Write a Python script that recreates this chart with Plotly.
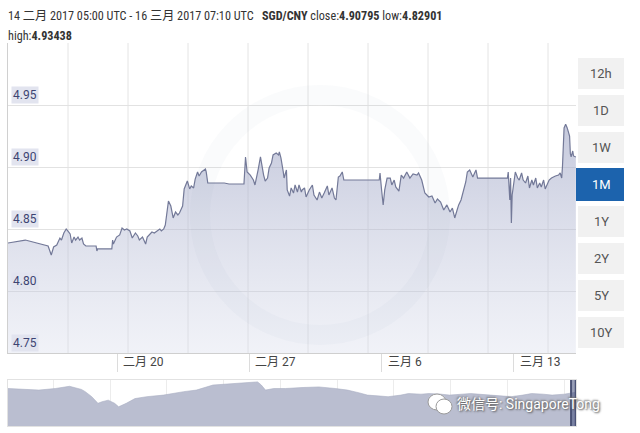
import plotly.graph_objects as go
import pandas as pd

# ---------------- data ----------------
pair = "SGD/CNY"
range_start = "2017-02-14 05:00"
range_end = "2017-03-16 07:10"
close_txt, low_txt, high_txt = "4.90795", "4.82901", "4.93438"

hours_since_start = [
    0, 22, 51, 55, 58, 62, 66, 68, 71, 74, 76, 79, 81, 84, 86, 89, 91, 94, 96, 99,
    112, 113, 114, 132, 133, 134, 138, 142, 145, 148, 151, 155, 158, 162, 165, 167, 171, 175, 177, 180,
    183, 186, 189, 193, 195, 198, 200, 204, 207, 208, 210, 213, 216, 218, 221, 222, 224, 227, 228, 231,
    233, 236, 238, 241, 243, 246, 248, 251, 252, 254, 275, 281, 300, 302, 304, 308, 312, 314, 318, 321,
    325, 327, 330, 332, 335, 337, 341, 344, 345, 347, 350, 351, 354, 355, 358, 360, 363, 365, 368, 370,
    373, 374, 377, 379, 383, 387, 389, 393, 396, 399, 402, 406, 408, 412, 415, 417, 420, 422, 425, 427,
    472, 473, 475, 477, 479, 482, 486, 488, 491, 493, 497, 500, 503, 507, 511, 515, 520, 522, 526, 530,
    535, 539, 543, 546, 550, 554, 558, 562, 565, 568, 571, 573, 576, 579, 582, 584, 587, 591, 595, 597,
    635, 636, 638, 639, 640, 641, 643, 645, 648, 650, 653, 655, 658, 661, 663, 666, 668, 671, 673, 676,
    678, 681, 683, 686, 688, 691, 693, 696, 700, 702, 704, 705, 707, 709, 711, 712, 714, 715, 716, 718,
    719, 722,
]
rate = [
    4.8387, 4.8411, 4.8363, 4.8290, 4.8355, 4.8371, 4.8427, 4.8411, 4.8468, 4.8500, 4.8484, 4.8460, 4.8387, 4.8435, 4.8411, 4.8435, 4.8411, 4.8427, 4.8379, 4.8363,
    4.8363, 4.8323, 4.8339, 4.8339, 4.8411, 4.8379, 4.8435, 4.8452, 4.8508, 4.8492, 4.8500, 4.8484, 4.8427, 4.8468, 4.8444, 4.8411, 4.8435, 4.8379, 4.8435, 4.8452,
    4.8476, 4.8468, 4.8484, 4.8500, 4.8484, 4.8500, 4.8532, 4.8726, 4.8685, 4.8653, 4.8589, 4.8637, 4.8613, 4.8629, 4.8669, 4.8685, 4.8823, 4.8879, 4.8887, 4.8823,
    4.8847, 4.8831, 4.8903, 4.8960, 4.8927, 4.8960, 4.8968, 4.8984, 4.8960, 4.8871, 4.8871, 4.8863, 4.8863, 4.9081, 4.8960, 4.8935, 4.8895, 4.8855, 4.8976, 4.9081,
    4.8935, 4.8887, 4.8911, 4.8992, 4.9032, 4.9097, 4.9113, 4.9097, 4.9121, 4.9073, 4.8960, 4.8911, 4.8976, 4.8815, 4.8766, 4.8831, 4.8790, 4.8855, 4.8798, 4.8855,
    4.8798, 4.8815, 4.8831, 4.8758, 4.8815, 4.8855, 4.8774, 4.8734, 4.8798, 4.8750, 4.8790, 4.8847, 4.8774, 4.8831, 4.8750, 4.8734, 4.8919, 4.8927, 4.8960, 4.8895,
    4.8895, 4.8952, 4.8815, 4.8694, 4.8815, 4.8911, 4.8911, 4.8855, 4.8895, 4.8839, 4.8806, 4.8935, 4.8911, 4.8960, 4.8911, 4.8944, 4.8935, 4.8952, 4.8895, 4.8790,
    4.8758, 4.8766, 4.8710, 4.8742, 4.8718, 4.8653, 4.8694, 4.8637, 4.8669, 4.8589, 4.8653, 4.8694, 4.8734, 4.8815, 4.8879, 4.8960, 4.8976, 4.8919, 4.8976, 4.8911,
    4.8911, 4.8960, 4.8734, 4.8911, 4.8548, 4.8774, 4.8855, 4.8960, 4.8911, 4.8895, 4.8952, 4.8895, 4.8871, 4.8927, 4.8831, 4.8895, 4.8855, 4.8911, 4.8831, 4.8871,
    4.8839, 4.8895, 4.8823, 4.8871, 4.8895, 4.8911, 4.8919, 4.8927, 4.8935, 4.8952, 4.8911, 4.9008, 4.9315, 4.9344, 4.9315, 4.9298, 4.9250, 4.9105, 4.9081, 4.9129,
    4.9089, 4.9080,
]

tick_dates = ["2017-02-20", "2017-02-27", "2017-03-06", "2017-03-13"]
tick_text = ["二月 20", "二月 27", "三月 6", "三月 13"]
y_ticks = [4.75, 4.80, 4.85, 4.90, 4.95]
y_tick_text = ["4.75", "4.80", "4.85", "4.90", "4.95"]

range_buttons = ["12h", "1D", "1W", "1M", "1Y", "2Y", "5Y", "10Y"]
active_button = "1M"

nav_dates = [
    "2007-03-16", "2007-07-01", "2007-10-01", "2008-01-15", "2008-04-15", "2008-07-01", "2008-07-25",
    "2008-09-05", "2008-10-15", "2008-11-10", "2008-12-20", "2009-01-30", "2009-02-25", "2009-04-15",
    "2009-06-10", "2009-08-25", "2009-12-10", "2010-04-20", "2010-07-10", "2010-10-25", "2011-01-10",
    "2011-03-28", "2011-06-15", "2011-08-08", "2011-09-01", "2011-09-28", "2011-11-20", "2012-02-05",
    "2012-05-20", "2012-09-05", "2012-12-20", "2013-03-08", "2013-05-25", "2013-07-15", "2013-10-05",
    "2013-11-25", "2014-02-15", "2014-04-05", "2014-06-25", "2014-08-15", "2014-11-01", "2014-12-25",
    "2015-03-15", "2015-05-10", "2015-09-15", "2016-01-25", "2016-04-10", "2016-06-05", "2016-08-20",
    "2016-10-15", "2017-01-01", "2017-02-10", "2017-03-16",
]
nav_values = [
    5.03, 5.01, 4.98, 5.03, 5.10, 5.00, 4.93,
    4.77, 4.56, 4.61, 4.66, 4.56, 4.45, 4.56,
    4.71, 4.77, 4.82, 4.93, 4.98, 5.14, 5.17,
    5.19, 5.23, 5.24, 5.14, 4.98, 5.03, 5.03,
    5.06, 5.08, 5.03, 4.98, 4.89, 4.82, 4.79,
    4.77, 4.82, 4.87, 4.85, 4.87, 4.85, 4.82,
    4.85, 4.87, 4.82, 4.77, 4.82, 4.87, 4.85,
    4.82, 4.85, 4.87, 4.91,
]

# ---------------- figure ----------------
W, H = 640, 433
ML, MR, MT, MB = 8, 64, 43, 7
PW, PH = W - ML - MR, H - MT - MB


def px(xp):
    return (xp - ML) / PW


def py(yp):
    return (H - MB - yp) / PH


FONT = "Roboto, Noto Sans CJK SC, sans-serif"
HEAD_FONT = "Liberation Sans Narrow, Roboto Condensed, Roboto, Noto Sans CJK SC, sans-serif"

x_main = pd.Timestamp(range_start) + pd.to_timedelta(hours_since_start, unit="h")

fig = go.Figure()

fig.add_trace(go.Scatter(
    x=x_main, y=rate, mode="lines",
    line=dict(color="#737998", width=1.2),
    fill="tozeroy",
    fillgradient=dict(type="vertical",
                      colorscale=[[0, "rgba(214,218,234,0.35)"], [1, "rgba(150,157,192,0.55)"]],
                      start=4.75, stop=4.935),
    xaxis="x", yaxis="y", hoverinfo="skip", showlegend=False,
))

fig.add_trace(go.Scatter(
    x=nav_dates, y=nav_values, mode="lines",
    line=dict(color="#a9aec3", width=0.6),
    fill="tozeroy", fillcolor="#babed0",
    xaxis="x2", yaxis="y2", hoverinfo="skip", showlegend=False,
))

main_dom = [py(353), 1]
nav_dom = [0, py(380)]

fig.update_layout(
    width=W, height=H,
    margin=dict(l=ML, r=MR, t=MT, b=MB),
    paper_bgcolor="white", plot_bgcolor="rgba(0,0,0,0)",
    font=dict(family=FONT, size=12, color="#333"),
    xaxis=dict(domain=[0, 1], anchor="y", type="date",
               range=[range_start, range_end],
               showgrid=False, zeroline=False,
               tickvals=tick_dates, ticks="outside", ticklen=18, tickcolor="#dcdcdc",
               showticklabels=False, showline=True, linecolor="#cfcfcf", linewidth=1),
    yaxis=dict(domain=main_dom, anchor="x", range=[4.75, 5.0],
               tickvals=y_ticks, showticklabels=False, ticks="",
               showgrid=True, gridcolor="#e2e2e2", zeroline=False,
               showline=True, linecolor="#d0d0d0"),
    xaxis2=dict(domain=[0, 1], anchor="y2", type="date",
                range=["2007-03-16", "2017-03-18"],
                showgrid=True, gridcolor="#ececec", dtick="M12",
                showticklabels=False, ticks="", zeroline=False,
                showline=True, linecolor="#e2e2e2", mirror=True),
    yaxis2=dict(domain=nav_dom, anchor="x2", range=[3.84, 5.30],
                showgrid=False, showticklabels=False, ticks="", zeroline=False,
                showline=True, linecolor="#e2e2e2", mirror=True),
)

shapes = []
annotations = []

# vertical grid every 60 px
for k in range(1, 10):
    shapes.append(dict(type="line", xref="paper", yref="paper",
                       x0=k * 60 / PW, x1=k * 60 / PW, y0=main_dom[0], y1=1,
                       line=dict(color="#e4e4e4", width=1), layer="below"))

# faint "xe" watermark ring
shapes.append(dict(type="circle", xref="paper", yref="paper",
                   x0=px(200), x1=px(440), y0=py(335), y1=py(95),
                   line=dict(color="rgba(120,128,170,0.035)", width=20), layer="above"))

# y tick labels with lavender boxes
for v, t in zip(y_ticks, y_tick_text):
    annotations.append(dict(x=0, xref="paper", xanchor="left", xshift=3,
                            y=v, yref="y", yanchor="bottom", yshift=1,
                            text=t, showarrow=False, bgcolor="#e2e4ef", borderpad=1,
                            font=dict(size=12, color="#3d4472", family=FONT)))

# x tick labels right of tick marks
for d, t in zip(tick_dates, tick_text):
    annotations.append(dict(x=d, xref="x", xanchor="left", xshift=4,
                            y=py(362), yref="paper", yanchor="middle",
                            text=t, showarrow=False,
                            font=dict(size=12, color="#444", family=FONT)))

# header
annotations.append(dict(
    x=px(6), xref="paper", xanchor="left", y=py(16), yref="paper", yanchor="middle",
    text=(f"14 二月 2017 05:00 UTC - 16 三月 2017 07:10 UTC\u00a0\u00a0\u00a0"
          f"<b>{pair}</b> close:<b>{close_txt}</b> low:<b>{low_txt}</b>"),
    showarrow=False, font=dict(size=12.2, color="#333", family=HEAD_FONT)))
annotations.append(dict(
    x=px(6), xref="paper", xanchor="left", y=py(36), yref="paper", yanchor="middle",
    text=f"high:<b>{high_txt}</b>",
    showarrow=False, font=dict(size=12.2, color="#333", family=HEAD_FONT)))

# range buttons
for i, b in enumerate(range_buttons):
    top = 58 + 37 * i
    active = b == active_button
    shapes.append(dict(type="rect", xref="paper", yref="paper",
                       x0=px(576 if active else 578), x1=px(624),
                       y0=py(top + 32 if active else top + 31), y1=py(top - 1 if active else top),
                       fillcolor="#1c63ad" if active else "#f1f1f1", line=dict(width=0),
                       layer="above"))
    annotations.append(dict(x=px(601), xref="paper", xanchor="center",
                            y=py(top + 15.5), yref="paper", yanchor="middle",
                            text=b, showarrow=False,
                            font=dict(size=13, color="white" if active else "#555", family=FONT)))

# navigator selected window
shapes.append(dict(type="rect", xref="x2", yref="paper",
                   x0=range_start, x1=range_end, y0=0, y1=py(380),
                   fillcolor="rgba(70,80,125,0.55)", line=dict(width=0)))
for edge in (range_start, range_end):
    shapes.append(dict(type="line", xref="x2", yref="paper",
                       x0=edge, x1=edge, y0=0, y1=py(380),
                       line=dict(color="#4a5275", width=2)))

# WeChat watermark
shapes.append(dict(type="circle", xref="paper", yref="paper",
                   x0=px(428), x1=px(446), y0=py(410), y1=py(394),
                   fillcolor="white", line=dict(color="#9a9a9a", width=1)))
shapes.append(dict(type="circle", xref="paper", yref="paper",
                   x0=px(436), x1=px(452), y0=py(414), y1=py(399),
                   fillcolor="white", line=dict(color="#9a9a9a", width=1)))
annotations.append(dict(x=px(455), xref="paper", xanchor="left",
                        y=py(404), yref="paper", yanchor="middle",
                        text="微信号: SingaporeTong", showarrow=False,
                        font=dict(size=14, color="white", family=FONT,
                                  shadow="1px 1px 2px #555, -1px -1px 2px #777")))

fig.update_layout(shapes=shapes, annotations=annotations)

fig.write_html("out.html", config={"displayModeBar": False},
               post_script="document.body.style.margin='0';document.body.style.padding='0';")
